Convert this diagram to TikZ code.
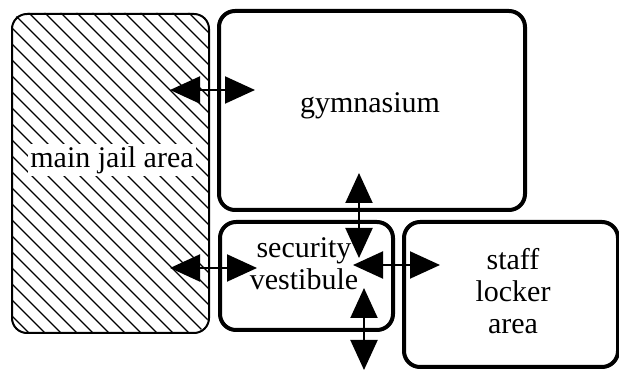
\documentclass[tikz,border=0pt]{standalone}
\usepackage{fontspec}
\setmainfont{Liberation Serif}
\usetikzlibrary{arrows.meta}
\begin{document}
\begin{tikzpicture}[x=1pt,y=-1pt,
  room/.style={draw, line width=4pt, rounded corners=16pt, anchor=north west, inner sep=0pt},
  jailroom/.style={draw, line width=2pt, rounded corners=15pt, anchor=north west, inner sep=0pt},
  lbl/.style={font=\fontsize{30}{32}\selectfont, align=center, inner sep=1pt},
  hatch/.style={line width=1.4pt},
  dbl/.style={line width=2pt, {Triangle[length=30pt,width=27pt]}-{Triangle[length=30pt,width=27pt]}}]
\useasboundingbox (0,0) rectangle (619,371);
% hatching of main jail area
\begin{scope}
  \path[clip, rounded corners=15pt] (11,13) rectangle (208,332);
  \foreach \i in {-400,-384,...,240} \draw[hatch] (\i,0) -- ++(400,400);
\end{scope}
\node[jailroom, minimum width=197pt, minimum height=319pt] (jail) at (11,13) {};
\node[room, minimum width=306pt, minimum height=199pt] (gym) at (217,9) {};
\node[room, minimum width=173pt, minimum height=108pt] (vest) at (218,220) {};
\node[room, minimum width=214pt, minimum height=145pt] (staff) at (402,220) {};
% labels
\node[lbl, fill=white, inner sep=2pt] (tjail) at (112,160) {main jail area};
\node[lbl] (tgym) at (370,106) {gymnasium};
\node[lbl] (tvest) at (304,264) {security\\vestibule};
\node[lbl] (tstaff) at (513,291) {staff\\locker\\area};
% arrow end points
\coordinate (a1) at (170,90);  \coordinate (b1) at (255,90);
\coordinate (a2) at (170,268); \coordinate (b2) at (257,268);
\coordinate (a3) at (359,173); \coordinate (b3) at (359,258);
\coordinate (a4) at (353,265); \coordinate (b4) at (440,265);
\coordinate (a5) at (364,288); \coordinate (b5) at (364,370);
\draw[dbl] (a1) -- (b1);
\draw[dbl] (a2) -- (b2);
\draw[dbl] (a3) -- (b3);
\draw[dbl] (a4) -- (b4);
\draw[dbl] (a5) -- (b5);
\end{tikzpicture}
\end{document}
